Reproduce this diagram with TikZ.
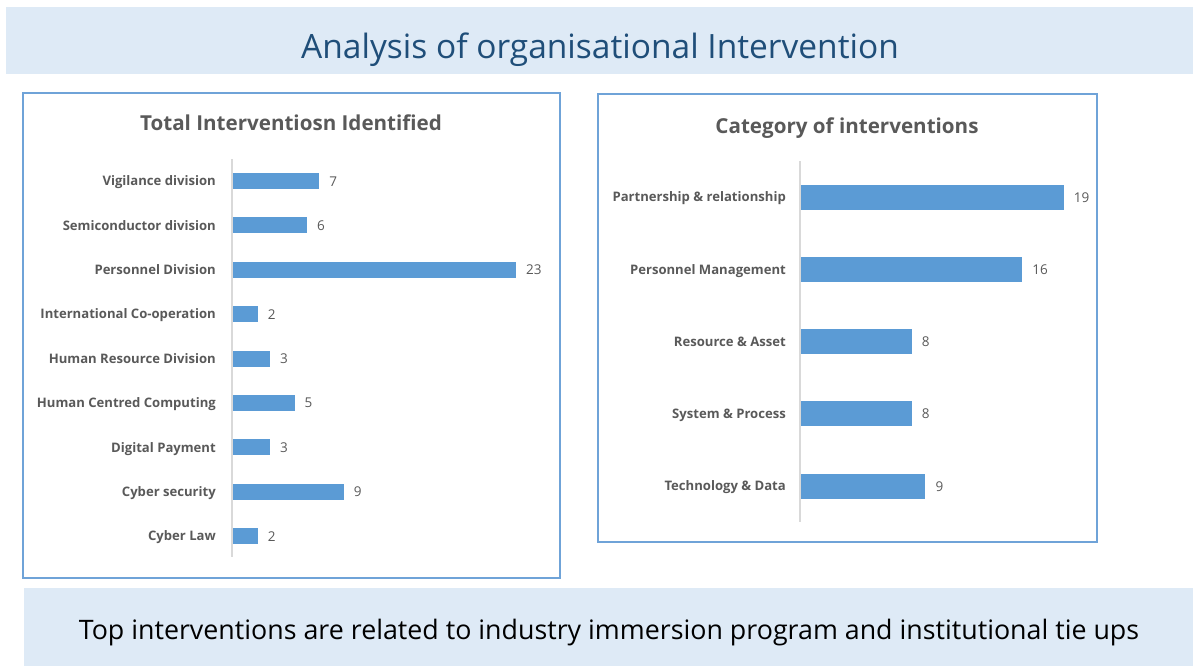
\documentclass[tikz,border=0pt]{standalone}
\usepackage{fontspec}
\setmainfont{Open Sans}
\definecolor{bandfill}{HTML}{DEEAF6}
\definecolor{titleblue}{HTML}{1F4E79}
\definecolor{panelline}{HTML}{6FA3D8}
\definecolor{barblue}{HTML}{5B9BD5}
\definecolor{axisgray}{HTML}{D9D9D9}
\definecolor{labgray}{HTML}{595959}
\tikzset{
  band/.style={fill=bandfill, draw=none},
  panel/.style={draw=panelline, line width=1.3pt},
  bigtitle/.style={text=titleblue, font=\fontsize{33.5}{38}\selectfont, inner sep=0pt, anchor=base},
  charttitle/.style={text=labgray, font=\bfseries\fontsize{20.6}{24}\selectfont, inner sep=0pt, anchor=base},
  catlab/.style={text=labgray, font=\bfseries\fontsize{13.1}{15}\selectfont, inner sep=0pt, anchor=base east},
  vallab/.style={text=labgray, font=\fontsize{13.5}{15}\selectfont, inner sep=0pt, anchor=base west},
  axis/.style={draw=axisgray, line width=1.2pt},
  bar/.style={fill=barblue},
  note/.style={text=black, font=\fontsize{26.8}{30}\selectfont, inner sep=0pt, anchor=base}
}
\begin{document}
\begin{tikzpicture}[x=1pt,y=-1pt]
\useasboundingbox (0,0) rectangle (1193,666);
% top band
\fill[band] (6,7) rectangle (1193,74);
\node[bigtitle] (title) at (600,59) {Analysis of organisational Intervention};
% bottom band
\fill[band] (24,588) rectangle (1193,666);
\node[note] (note) at (609,639) {Top interventions are related to industry immersion program and institutional tie ups};
% left panel
\draw[panel] (23,93) rectangle (560,578);
\node[charttitle] (ltitle) at (291,131) {Total Interventiosn Identified};
\coordinate (laxtop) at (232,159);
\coordinate (laxbot) at (232,557);
\draw[axis] (laxtop) -- (laxbot);
\foreach \lab/\v [count=\i from 0] in {Vigilance division/7, Semiconductor division/6, Personnel Division/23, International Co-operation/2, Human Resource Division/3, Human Centred Computing/5, Digital Payment/3, Cyber security/9, Cyber Law/2}{
  \pgfmathsetmacro{\yy}{181+44.38*\i}
  \pgfmathsetmacro{\xe}{233+12.3*\v}
  \fill[bar] (233,\yy-8) rectangle (\xe,\yy+8);
  \node[catlab] (l\i) at (216,\yy+4.8) {\lab};
  \node[vallab] (lv\i) at (\xe+10,\yy+5) {\v};
}
% right panel
\draw[panel] (598,94) rectangle (1097,542);
\node[charttitle] (rtitle) at (847,133) {Category of interventions};
\coordinate (raxtop) at (800,161);
\coordinate (raxbot) at (800,522);
\draw[axis] (raxtop) -- (raxbot);
\foreach \lab/\v [count=\i from 0] in {Partnership \& relationship/19, Personnel Management/16, Resource \& Asset/8, System \& Process/8, Technology \& Data/9}{
  \pgfmathsetmacro{\yy}{197+72.25*\i}
  \pgfmathsetmacro{\xe}{801+13.83*\v}
  \fill[bar] (801,\yy-12.5) rectangle (\xe,\yy+12.5);
  \node[catlab] (r\i) at (786,\yy+4.8) {\lab};
  \node[vallab] (rv\i) at (\xe+10,\yy+5) {\v};
}
\end{tikzpicture}
\end{document}
